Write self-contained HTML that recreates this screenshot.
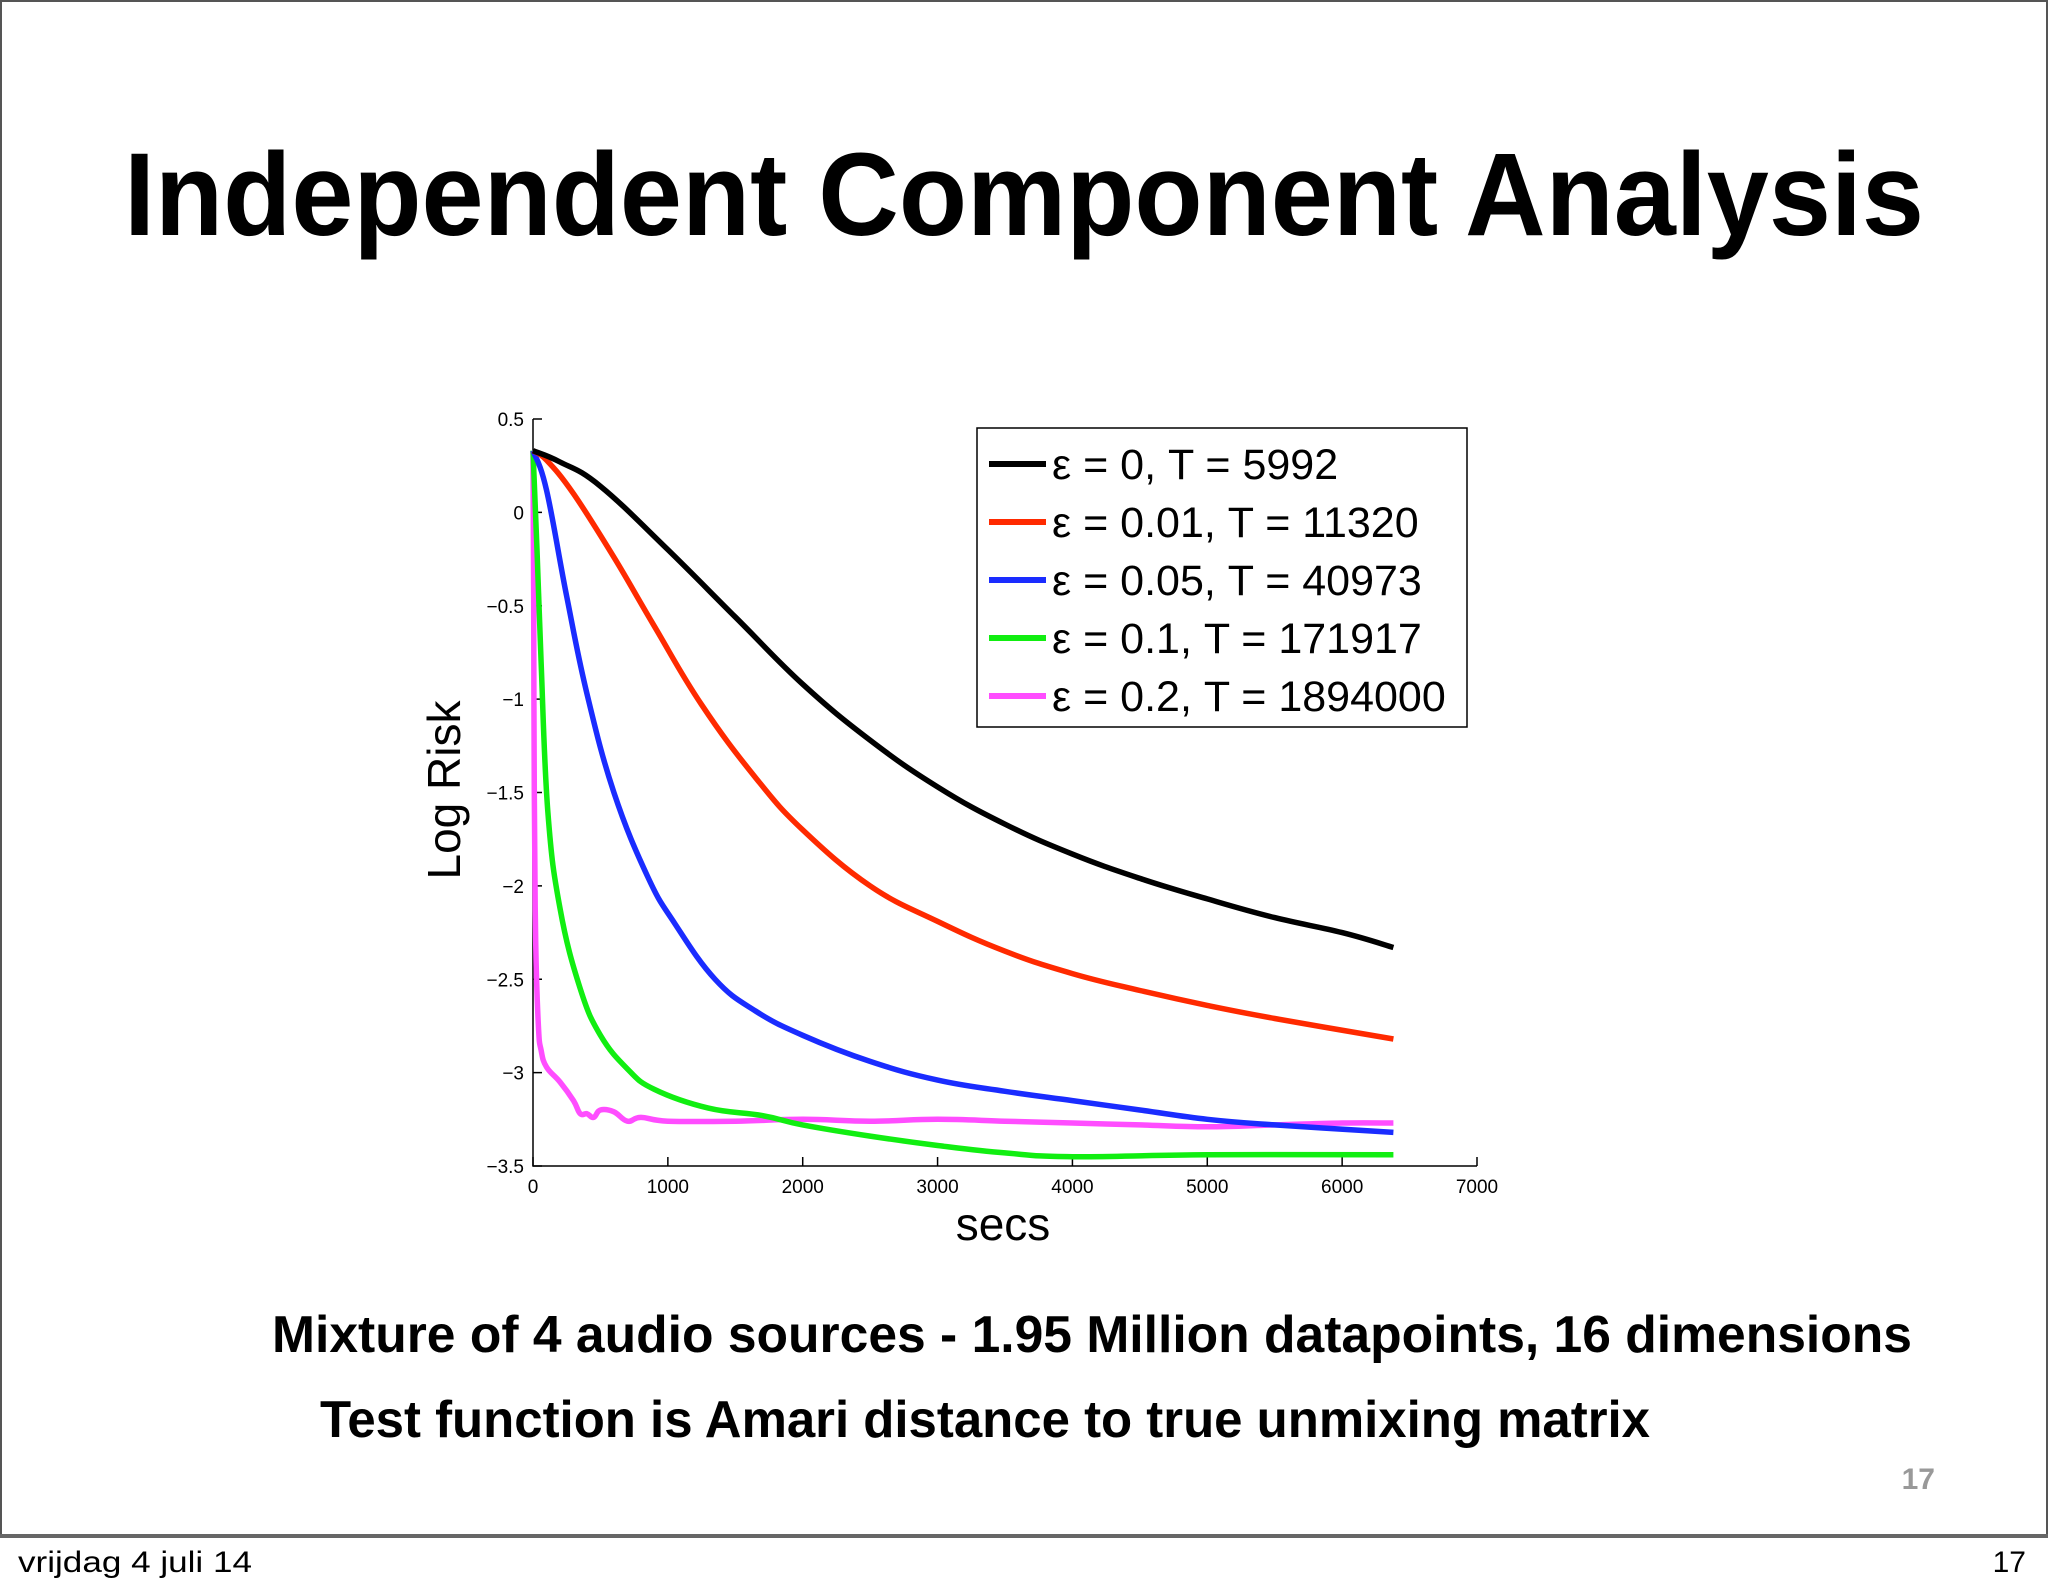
<!DOCTYPE html>
<html><head><meta charset="utf-8"><style>
html,body{margin:0;padding:0;background:#fff;}
svg{display:block;font-family:"Liberation Sans",sans-serif;}
</style></head><body>
<svg width="2048" height="1593" viewBox="0 0 2048 1593">
<rect x="1" y="1" width="2046" height="1534" fill="#fff" stroke="#555" stroke-width="2"/>
<rect x="0" y="1534" width="2048" height="4" fill="#666"/>
<text x="1024" y="235" text-anchor="middle" font-size="118" font-weight="bold" textLength="1800" lengthAdjust="spacingAndGlyphs">Independent Component Analysis</text>
<text x="272" y="1352" font-size="52" font-weight="bold" textLength="1640" lengthAdjust="spacingAndGlyphs">Mixture of 4 audio sources - 1.95 Million datapoints, 16 dimensions</text>
<text x="320" y="1437" font-size="52" font-weight="bold" textLength="1330" lengthAdjust="spacingAndGlyphs">Test function is Amari distance to true unmixing matrix</text>
<text x="1935" y="1489" text-anchor="end" font-size="30" font-weight="bold" fill="#999">17</text>
<text x="18" y="1572" font-size="30" textLength="234" lengthAdjust="spacingAndGlyphs">vrijdag 4 juli 14</text>
<text x="2026" y="1572" text-anchor="end" font-size="30">17</text>
<g id="chart"></g>
</svg>
<script>
const xTicks=[0,1000,2000,3000,4000,5000,6000,7000];
const yTicks=[0.5,0,-0.5,-1,-1.5,-2,-2.5,-3,-3.5];
const yTickLabels=["0.5","0","\u22120.5","\u22121","\u22121.5","\u22122","\u22122.5","\u22123","\u22123.5"];
const blackX=[0,200,500,1000,1500,2000,2500,3000,3500,4000,4500,5000,5500,6000,6380];
const blackY=[0.33,0.27,0.14,-0.20,-0.56,-0.92,-1.22,-1.47,-1.67,-1.83,-1.96,-2.07,-2.17,-2.25,-2.33];
const redX=[0,100,300,600,900,1250,1650,2000,2500,3000,3500,4000,4500,5000,5500,6380];
const redY=[0.33,0.28,0.10,-0.24,-0.61,-1.03,-1.42,-1.70,-2.00,-2.19,-2.35,-2.47,-2.56,-2.64,-2.71,-2.82];
const blueX=[0,100,250,400,600,850,1050,1350,1650,2000,2500,3000,3500,4000,4500,5000,5500,6380];
const blueY=[0.33,0.12,-0.45,-0.97,-1.50,-1.95,-2.20,-2.50,-2.67,-2.80,-2.94,-3.04,-3.10,-3.15,-3.20,-3.25,-3.28,-3.32];
const greenX=[0,30,60,110,200,350,500,700,900,1300,1700,2000,2500,3000,3500,4000,5000,6380];
const greenY=[0.33,-0.2,-0.8,-1.6,-2.12,-2.55,-2.80,-2.98,-3.09,-3.19,-3.23,-3.28,-3.34,-3.39,-3.43,-3.45,-3.44,-3.44];
const magX=[0,5,10,20,40,60,100,200,300,350,400,450,500,600,700,800,1000,1500,2000,2500,3000,3500,4000,4500,5000,5500,6000,6380];
const magY=[0.33,-0.5,-1.5,-2.3,-2.75,-2.88,-2.97,-3.05,-3.15,-3.22,-3.22,-3.24,-3.20,-3.21,-3.26,-3.24,-3.26,-3.26,-3.25,-3.26,-3.25,-3.26,-3.27,-3.28,-3.29,-3.28,-3.27,-3.27];
const legendLabels=["\u03B5 = 0, T = 5992","\u03B5 = 0.01, T = 11320","\u03B5 = 0.05, T = 40973","\u03B5 = 0.1, T = 171917","\u03B5 = 0.2, T = 1894000"];

const NS="http://www.w3.org/2000/svg";
const g=document.getElementById('chart');
const X0=533,X1=1477,Y0=419,Y1=1166;
const sx=v=>X0+(v-0)/7000*(X1-X0);
const sy=v=>Y0+(0.5-v)/4*(Y1-Y0);
function mk(t,a,p){const e=document.createElementNS(NS,t);for(const k in a)e.setAttribute(k,a[k]);(p||g).appendChild(e);return e;}
function smoothPath(xs,ys){
 const P=xs.map((x,i)=>[sx(x),sy(ys[i])]);
 let d='M'+P[0][0].toFixed(1)+','+P[0][1].toFixed(1);
 for(let i=0;i<P.length-1;i++){
  const p0=P[Math.max(0,i-1)],p1=P[i],p2=P[i+1],p3=P[Math.min(P.length-1,i+2)];
  const t=0.2;
  const c1=[p1[0]+(p2[0]-p0[0])*t,p1[1]+(p2[1]-p0[1])*t];
  const c2=[p2[0]-(p3[0]-p1[0])*t,p2[1]-(p3[1]-p1[1])*t];
  d+='C'+c1.map(v=>v.toFixed(1)).join(',')+' '+c2.map(v=>v.toFixed(1)).join(',')+' '+p2[0].toFixed(1)+','+p2[1].toFixed(1);
 }
 return d;
}
const ax=mk('path',{d:`M${X0},${Y0}V${Y1}H${X1}`,fill:'none',stroke:'#000','stroke-width':1.5});


xTicks.forEach(v=>{
 const t=mk('line',{x1:sx(v),x2:sx(v),y1:Y1,y2:Y1-9,stroke:'#000','stroke-width':1.5});
 
 
 const l=mk('text',{x:sx(v),y:Y1+27,'text-anchor':'middle','font-size':19});
 l.textContent=v;
 
 
});
yTicks.forEach((v,i)=>{
 const t=mk('line',{x1:X0,x2:X0+9,y1:sy(v),y2:sy(v),stroke:'#000','stroke-width':1.5});
 
 
 const l=mk('text',{x:X0-9,y:sy(v)+7,'text-anchor':'end','font-size':19});
 l.textContent=yTickLabels[i];
 
 
});
const xl=mk('text',{x:1003,y:1240,'text-anchor':'middle','font-size':46});
xl.textContent='secs';


const yl=mk('text',{x:0,y:0,'text-anchor':'middle','font-size':46,transform:'translate(460,790) rotate(-90)'});
yl.textContent='Log Risk';


const series=[[blackX,blackY,'#000','series-eps-0'],[redX,redY,'#ff2a00','series-eps-0.01'],[blueX,blueY,'#1a2cff','series-eps-0.05'],[greenX,greenY,'#11ee11','series-eps-0.1'],[magX,magY,'#ff4dff','series-eps-0.2']];
series.slice().reverse().forEach(s=>{
 const p=mk('path',{d:smoothPath(s[0],s[1]),fill:'none',stroke:s[2],'stroke-width':5.5,'stroke-linejoin':'round'});
 
 
});
const lg=mk('g',{});


const lb=mk('rect',{x:977,y:428,width:490,height:299,fill:'#fff',stroke:'#000','stroke-width':1.5},lg);


legendLabels.forEach((t,i)=>{
 const y=464+i*58;
 const ln=mk('line',{x1:989,x2:1046,y1:y,y2:y,stroke:series[i][2],'stroke-width':6},lg);
 
 
 const tx=mk('text',{x:1052,y:y+15,'font-size':43},lg);
 tx.textContent=t;
 
 
});
</script>
</body></html>
